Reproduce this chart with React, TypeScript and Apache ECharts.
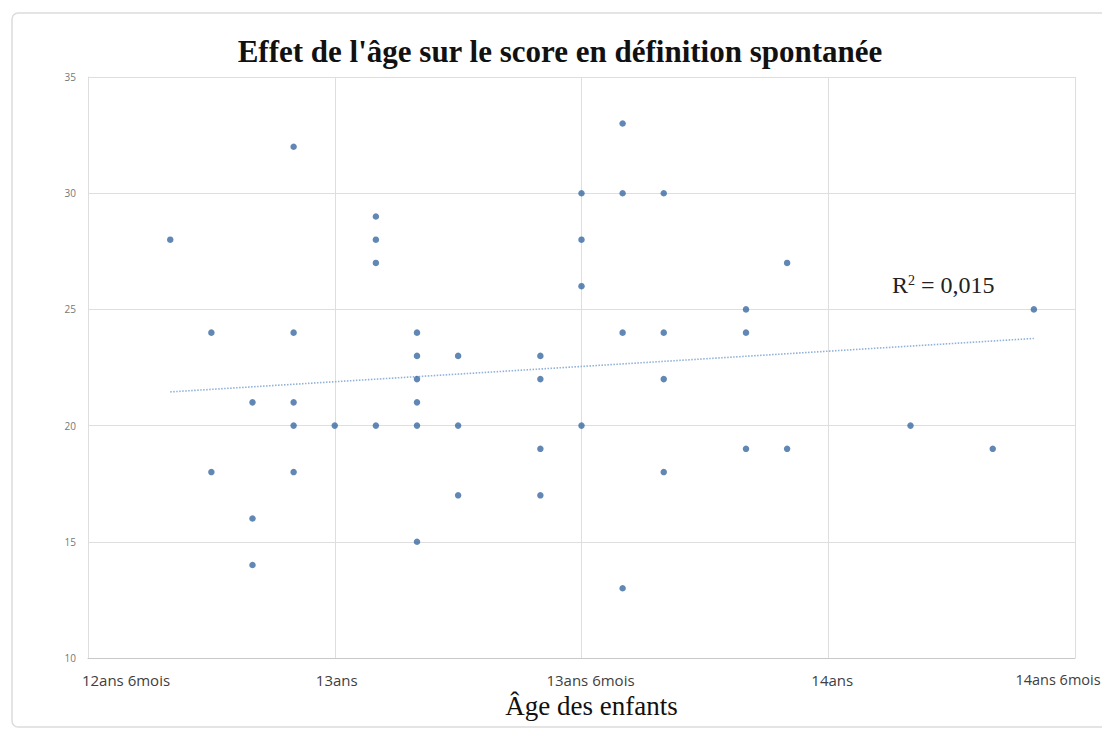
import React, { useEffect, useRef } from "react";
import * as echarts from "echarts";

// Age in months (12 ans 6 mois = 150 months)
const ageMonths: number[] = [
  152, 153, 153, 154, 154, 154, 155, 155, 155, 155, 155, 156, 157, 157, 157, 157,
  158, 158, 158, 158, 158, 158, 159, 159, 159, 161, 161, 161, 161, 162, 162, 162,
  162, 163, 163, 163, 163, 164, 164, 164, 164, 166, 166, 166, 167, 167, 170, 172, 173,
];
const scores: number[] = [
  28, 24, 18, 21, 16, 14, 32, 24, 21, 20, 18, 20, 29, 28, 27, 20,
  24, 23, 22, 21, 20, 15, 23, 20, 17, 23, 22, 19, 17, 30, 28, 26,
  20, 33, 30, 24, 13, 30, 24, 22, 18, 25, 24, 19, 27, 19, 20, 19, 25,
];
// Linear trendline ends
const trendAges: number[] = [152, 173];
const trendScores: number[] = [21.45, 23.75];
const xTickValues: number[] = [150, 156, 162, 168, 174];
const xTickLabels: string[] = ["12ans 6mois", "13ans", "13ans 6mois", "14ans", "14ans 6mois"];
const yTicks: number[] = [10, 15, 20, 25, 30, 35];
const titleText = "Effet de l'âge sur le score en définition spontanée";
const xAxisName = "Âge des enfants";
const r2Text = "0,015";

export default function App() {
  const ref = useRef<HTMLDivElement>(null);
  useEffect(() => {
    if (!ref.current) return;
    const chart = echarts.init(ref.current, null, { renderer: "svg" });
    const points = ageMonths.map((x, i) => [x, scores[i]]);
    const trend = trendAges.map((x, i) => [x, trendScores[i]]);
    const labelKeys = ["l0", "l1", "l2", "l3", "l4"];
    const lab = { fontFamily: "Open Sans", fontSize: 15, color: "#404040" };
    chart.setOption({
      animation: false,
      backgroundColor: "#ffffff",
      title: {
        text: titleText,
        left: 555,
        top: 31,
        textAlign: "center",
        textStyle: {
          fontFamily: "Liberation Serif",
          fontWeight: "bold",
          fontSize: 31,
          color: "#111111",
        },
      },
      grid: {
        left: 88,
        right: 27,
        top: 77,
        bottom: 71,
        containLabel: false,
        outerBoundsMode: "none",
      },
      xAxis: {
        type: "value",
        min: xTickValues[0],
        max: xTickValues[xTickValues.length - 1],
        interval: 6,
        name: xAxisName,
        nameLocation: "middle",
        nameGap: 34,
        nameTextStyle: {
          fontFamily: "Liberation Serif",
          fontSize: 27,
          color: "#111111",
          padding: [0, 0, 0, 20],
        },
        axisLine: { show: true, lineStyle: { color: "#c8c8c8", width: 1 } },
        axisTick: { show: false },
        splitLine: { show: true, lineStyle: { color: "#dedede", width: 1 } },
        axisLabel: {
          margin: 14,
          hideOverlap: false,
          formatter: (v: number) => {
            const i = xTickValues.indexOf(v);
            return i >= 0 ? `{${labelKeys[i]}|${xTickLabels[i]}}` : "";
          },
          rich: {
            l0: { ...lab, padding: [0, 0, 0, 76] },
            l1: { ...lab, padding: [0, 0, 0, 4] },
            l2: { ...lab, padding: [0, 0, 0, 18] },
            l3: { ...lab, padding: [0, 0, 0, 8] },
            l4: { ...lab, fontSize: 14.5, padding: [0, 34, 0, 0] },
          },
        },
      },
      yAxis: {
        type: "value",
        min: yTicks[0],
        max: yTicks[yTicks.length - 1],
        interval: 5,
        axisLine: { show: true, lineStyle: { color: "#dedede", width: 1 } },
        axisTick: { show: false },
        splitLine: { show: true, lineStyle: { color: "#dedede", width: 1 } },
        axisLabel: {
          margin: 12,
          fontFamily: "Open Sans",
          fontSize: 10,
          color: "#777777",
        },
      },
      series: [
        {
          type: "line",
          data: trend,
          symbol: "none",
          lineStyle: { color: "#8fb1da", width: 1.6, type: [1.5, 1.5] },
          z: 1,
          silent: true,
        },
        {
          type: "scatter",
          data: points,
          symbol: "circle",
          symbolSize: 6.5,
          itemStyle: { color: "#3a6aa3" },
          z: 3,
        },
      ],
      graphic: [
        {
          type: "rect",
          shape: { x: 12, y: 13, width: 1110, height: 714, r: 6 },
          style: { fill: "none", stroke: "#dcdcdc", lineWidth: 1.5 },
          z: -1,
        },
        {
          type: "text",
          x: 892,
          y: 273,
          style: {
            text: `R{sup|2} = ${r2Text}`,
            fontFamily: "Liberation Serif",
            fontSize: 24,
            fill: "#222222",
            rich: {
              sup: { fontFamily: "Liberation Serif", fontSize: 14, verticalAlign: "top", padding: [0, 0, 9, 0], fill: "#222222" },
            },
          },
        },
      ],
    });
    return () => chart.dispose();
  }, []);
  return (
    <div style={{ position: "fixed", left: 0, top: 0, width: 1102, height: 729, overflow: "hidden", background: "#fff" }}>
      <div ref={ref} style={{ width: 1102, height: 729 }} />
    </div>
  );
}
